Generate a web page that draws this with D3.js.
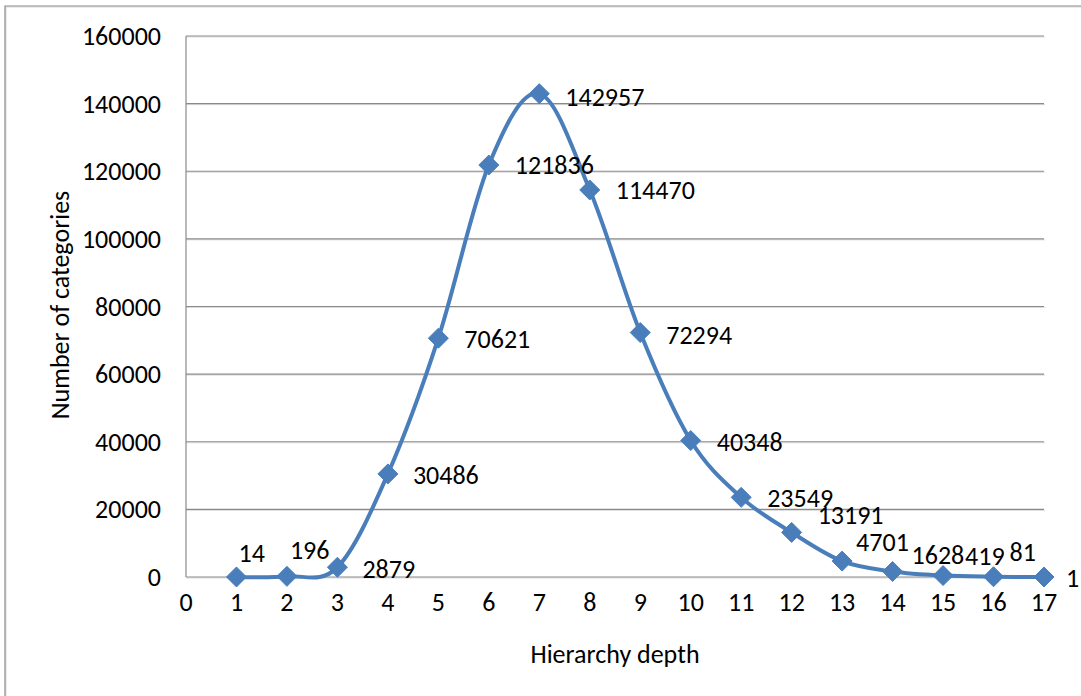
<!DOCTYPE html>
<html>
<head>
<meta charset="utf-8">
<script src="https://cdn.jsdelivr.net/npm/d3@7"></script>
<style>
  html, body { margin: 0; padding: 0; background: #fff; }
  svg { display: block; font-family: Carlito, Calibri, "Open Sans", sans-serif; }
</style>
</head>
<body>
<div id="chart"></div>
<script>
// hierarchy depth (x) and number of categories (y)
const depths = [1, 2, 3, 4, 5, 6, 7, 8, 9, 10, 11, 12, 13, 14, 15, 16, 17]
const counts = [14, 196, 2879, 30486, 70621, 121836, 142957, 114470, 72294, 40348, 23549, 13191, 4701, 1628, 419, 81, 1]
const xTicks = d3.range(0, 18)
const yTicks = [0, 20000, 40000, 60000, 80000, 100000, 120000, 140000, 160000]
// label offsets from each marker (dx, dy), as placed in the original
const labelDx = [2, 3, 25, 25, 26, 26, 26, 26, 26, 26, 26, 26, 14, 19, 22, 16, 22]
const labelDy = [-24, -26, 2, 1, 1, 0, 3, 0, 2, 1, 1, -17, -19, -17, -20, -25, 1]

const W = 1081, H = 696
const margin = {left: 186, right: 37, top: 36, bottom: 119}
const fs = 26

const svg = d3.select("#chart").append("svg").attr("width", W).attr("height", H)

// outer frame (only left and top edges are visible)
const frame = svg.append("g")
frame.append("path").attr("d", `M6,${H} V7 H${W}`).attr("fill", "none").attr("stroke", "#d9d9d9").attr("stroke-width", 1)
frame.append("path").attr("d", `M5,${H} V6 H${W}`).attr("fill", "none").attr("stroke", "#8a8a8a").attr("stroke-width", 1.2)

const x = d3.scaleLinear().domain([0, 17]).range([margin.left, W - margin.right])
const y = d3.scaleLinear().domain([0, 160000]).range([H - margin.bottom, margin.top])

// gridlines
const grid = svg.append("g")
grid.selectAll("line.shadow").data(yTicks).enter().append("line")
  .attr("class", "shadow")
  .attr("x1", x(0)).attr("x2", x(17) + 1)
  .attr("y1", d => y(d) + 1).attr("y2", d => y(d) + 1)
  .attr("stroke", "#dcdcdc").attr("stroke-width", 1)
grid.selectAll("line.main").data(yTicks).enter().append("line")
  .attr("class", "main")
  .attr("x1", x(0)).attr("x2", x(17))
  .attr("y1", d => y(d)).attr("y2", d => y(d))
  .attr("stroke", "#8a8a8a").attr("stroke-width", 1.2)
// vertical axis line
grid.append("line").attr("x1", x(0)).attr("x2", x(0)).attr("y1", y(160000)).attr("y2", y(0))
  .attr("stroke", "#8a8a8a").attr("stroke-width", 1.2)

// y tick labels
svg.append("g").selectAll("text").data(yTicks).enter().append("text")
  .attr("x", 161).attr("y", d => y(d))
  .attr("dy", "0.35em")
  .attr("text-anchor", "end")
  .attr("font-size", fs).attr("fill", "#000")
  .text(d => d)

// x tick labels
svg.append("g").selectAll("text").data(xTicks).enter().append("text")
  .attr("x", d => x(d)).attr("y", 602)
  .attr("dy", "0.35em")
  .attr("text-anchor", "middle")
  .attr("font-size", fs).attr("fill", "#000")
  .text(d => d)

// axis titles
svg.append("text")
  .attr("transform", "translate(60,305) rotate(-90)")
  .attr("text-anchor", "middle").attr("dy", "0.35em")
  .attr("font-size", fs).text("Number of categories")
svg.append("text")
  .attr("x", 615).attr("y", 654).attr("dy", "0.35em")
  .attr("text-anchor", "middle")
  .attr("font-size", fs).text("Hierarchy depth")

const pts = depths.map((d, i) => ({x: d, v: counts[i], i: i}))

// smoothed series line
const line = d3.line().x(d => x(d.x)).y(d => y(d.v)).curve(d3.curveCardinal.tension(0))
svg.append("path").datum(pts)
  .attr("d", line)
  .attr("fill", "none")
  .attr("stroke", "#4a7ebb")
  .attr("stroke-width", 4)
  .attr("stroke-linejoin", "round")

// diamond markers
svg.append("g").selectAll("path").data(pts).enter().append("path")
  .attr("transform", d => `translate(${x(d.x)},${y(d.v)})`)
  .attr("d", "M0,-10L10,0L0,10L-10,0Z")
  .attr("fill", "#4a7ebb")
  .attr("stroke", "#4a7ebb")
  .attr("stroke-width", 1)

// data labels
svg.append("g").selectAll("text").data(pts).enter().append("text")
  .attr("x", d => x(d.x) + labelDx[d.i])
  .attr("y", d => y(d.v) + labelDy[d.i])
  .attr("dy", "0.35em")
  .attr("font-size", fs).attr("fill", "#000")
  .text(d => d.v)
</script>
</body>
</html>
